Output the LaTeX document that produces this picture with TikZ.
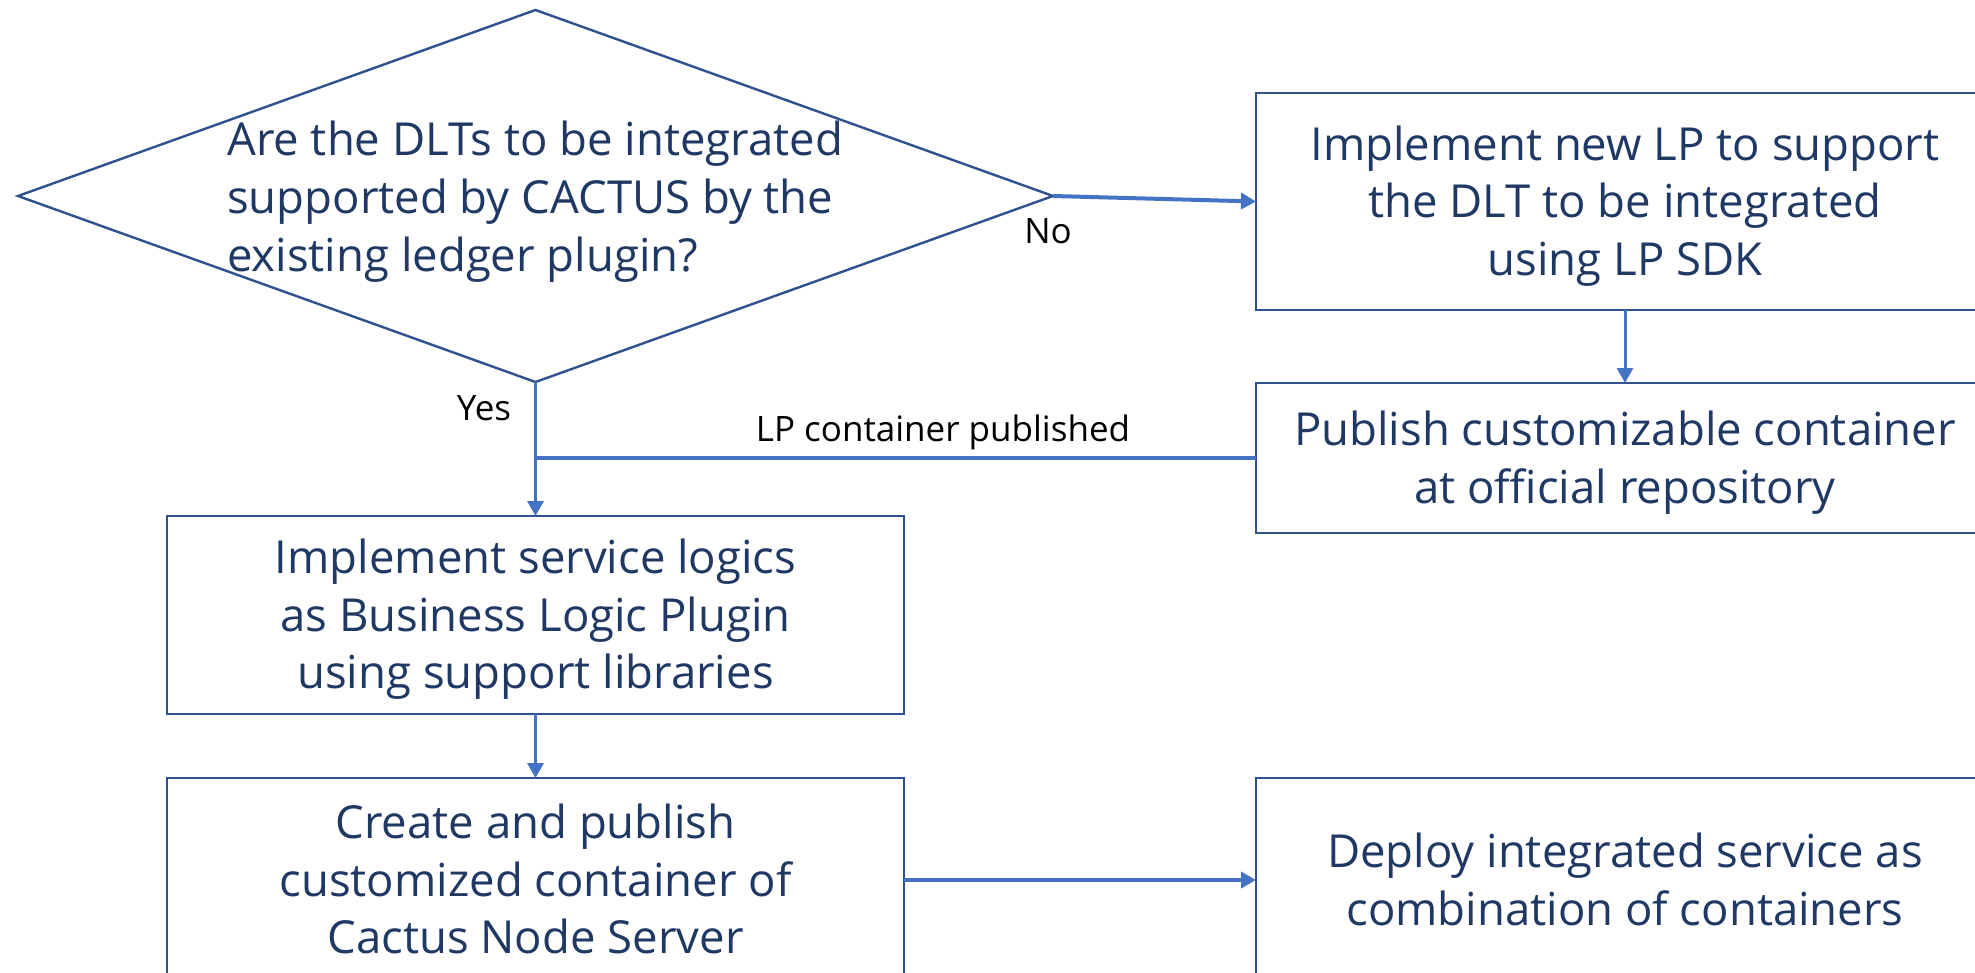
\documentclass[tikz,border=0pt]{standalone}
\usepackage{fontspec}
\setmainfont{Open Sans}
\usetikzlibrary{arrows.meta,shapes.geometric}
\definecolor{boxline}{HTML}{2F528F}
\definecolor{arrowc}{HTML}{4472C4}
\definecolor{txt}{HTML}{203864}
% struts so that the cap-height middle of the text sits on the node centre
\newcommand\mytopstrut{\rule{0pt}{46.5pt}}
\newcommand\mybotstrut{\rule[-14pt]{0pt}{14pt}}
\tikzset{
  stepbox/.style={draw=boxline, line width=2.4pt, rectangle, inner sep=0pt, outer sep=0pt,
    text=txt, align=center, font=\fontsize{45.5}{57.5}\selectfont},
  decbox/.style={draw=boxline, line width=2.4pt, diamond, inner sep=0pt, outer sep=0pt},
  thinarrow/.style={draw=arrowc, line width=3pt, -{Triangle[length=15pt,width=16pt]}},
  thickarrow/.style={draw=arrowc, line width=4pt, -{Triangle[length=15pt,width=16pt]}},
  thickline/.style={draw=arrowc, line width=4pt},
  lbl/.style={text=black, inner sep=0pt, font=\fontsize{35}{40}\selectfont},
}
\begin{document}
\begin{tikzpicture}[x=1pt,y=-1pt]
\useasboundingbox (0,0) rectangle (1975,972);
\clip (0,0) rectangle (1975,972);
\fill[white] (0,0) rectangle (1975,972);

% decision
\node[decbox, minimum width=1035pt, minimum height=372pt] (dec) at (535.5,196) {};
\node[anchor=west, align=left, inner sep=0pt, text=txt, font=\fontsize{45.5}{58}\selectfont] (dectext) at (227,197)
  {\mytopstrut Are the DLTs to be integrated\\supported by CACTUS by the\\existing ledger plugin?\mybotstrut};

% boxes
\node[stepbox, minimum width=738pt, minimum height=217pt] (b1) at (1625,201.5)
  {\mytopstrut Implement new LP to support\\the DLT to be integrated\\using LP SDK\mybotstrut};
\node[stepbox, minimum width=738pt, minimum height=150pt] (b2) at (1625,458)
  {\mytopstrut Publish customizable container\\at official repository\mybotstrut};
\node[stepbox, minimum width=737pt, minimum height=198pt] (b3) at (535.5,615)
  {\mytopstrut Implement service logics\\as Business Logic Plugin\\using support libraries\mybotstrut};
\node[stepbox, minimum width=737pt, minimum height=204pt] (b4) at (535.5,880)
  {\mytopstrut Create and publish\\customized container of\\Cactus Node Server\mybotstrut};
\node[stepbox, minimum width=738pt, minimum height=204pt] (b5) at (1625,880)
  {\mytopstrut Deploy integrated service as\\combination of containers\mybotstrut};

% connectors
\draw[thickarrow] (dec.east) -- (b1.west);
\draw[thinarrow] (b1.south) -- (b2.north);
\coordinate (join) at (b2.west -| dec.south);
\draw[thickline] (b2.west) -- (join);
\draw[thinarrow] (dec.south) -- (b3.north);
\draw[thinarrow] (b3.south) -- (b4.north);
\draw[thickarrow] (b4.east) -- (b5.west);

% labels
\node[lbl] (no) at (1048,231) {No};
\node[lbl] (yes) at (484,408) {Yes};
\node[lbl] (lpc) at (943,432) {LP container published};
\end{tikzpicture}
\end{document}
